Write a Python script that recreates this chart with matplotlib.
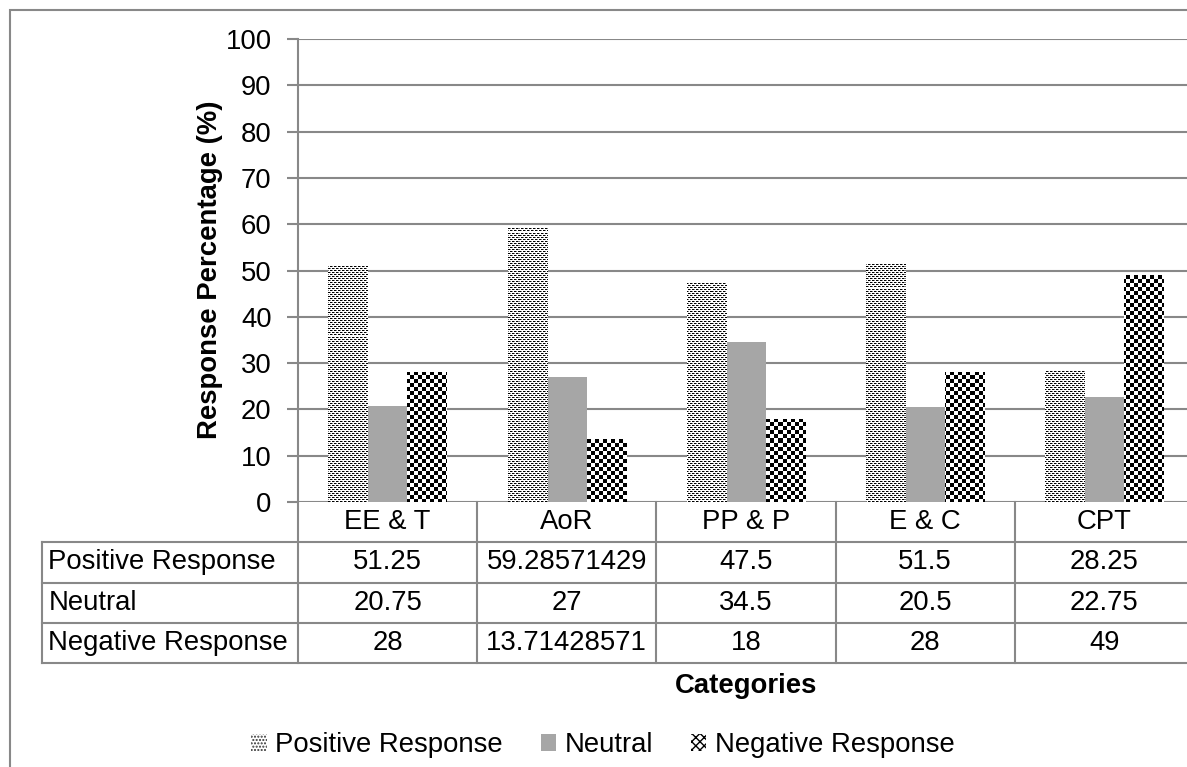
import numpy as np
import matplotlib
matplotlib.use("Agg")
import matplotlib.pyplot as plt
import matplotlib.patches as mpatches
from matplotlib.lines import Line2D
from matplotlib.transforms import blended_transform_factory

plt.rcParams['font.family'] = ['Liberation Sans', 'DejaVu Sans']

categories = ['EE & T', 'AoR', 'PP & P', 'E & C', 'CPT']
series_names = ['Positive Response', 'Neutral', 'Negative Response']
positive = [51.25, 59.28571429, 47.5, 51.5, 28.25]
neutral = [20.75, 27, 34.5, 20.5, 22.75]
negative = [28, 13.71428571, 18, 28, 49]
table_text = [['51.25', '59.28571429', '47.5', '51.5', '28.25'],
              ['20.75', '27', '34.5', '20.5', '22.75'],
              ['28', '13.71428571', '18', '28', '49']]
yticks = list(range(0, 101, 10))

W, H = 1187, 767
GRAY = '#888888'
FS = 19.8

fig = plt.figure(figsize=(W / 100, H / 100), dpi=100)
ax_left, ax_right, ax_top, ax_bottom = 298, 1194, 39, 502
ax = fig.add_axes([ax_left / W, 1 - ax_bottom / H, (ax_right - ax_left) / W, (ax_bottom - ax_top) / H])

x = np.arange(len(categories))
bw = 0.22

# textures (pixel-sized patterns) for patterned bars
pw, ph = ax_right - ax_left, ax_bottom - ax_top
yy, xx = np.mgrid[0:ph, 0:pw]
dots = np.ones((ph, pw))
dots[(xx % 4 <= 1) & (yy % 4 == 0)] = 0.0
dots[(xx % 4 >= 2) & (yy % 4 == 2)] = 0.0
dots[(xx % 4 == 0) & (yy % 4 == 2)] = 0.5
dots[(xx % 4 == 2) & (yy % 4 == 0)] = 0.5
checker = ((xx // 4 + yy // 4) % 2).astype(float)

bars_pos = ax.bar(x - bw, positive, bw, facecolor='none', edgecolor='none', zorder=3)
bars_neu = ax.bar(x, neutral, bw, color='#A6A6A6', zorder=3)
bars_neg = ax.bar(x + bw, negative, bw, facecolor='none', edgecolor='none', zorder=3)

ax.set_xlim(-0.5, len(categories) - 0.5)
ax.set_ylim(0, 100)

for bars, tex in [(bars_pos, dots), (bars_neg, checker)]:
    for b in bars:
        im = ax.imshow(tex, cmap='gray', vmin=0, vmax=1, extent=(-0.5, len(categories) - 0.5, 0, 100),
                       aspect='auto', interpolation='nearest', zorder=3, origin='upper')
        im.set_clip_path(b)

ax.set_yticks(yticks)
ax.set_yticklabels([str(t) for t in yticks], fontsize=FS)
ax.tick_params(axis='y', length=8, width=1.5, color=GRAY, pad=11)
ax.set_xticks([])
ax.grid(axis='y', color=GRAY, linewidth=1.5, zorder=0)
ax.set_axisbelow(True)
for s in ['top', 'right', 'bottom']:
    ax.spines[s].set_visible(False)
ax.spines['left'].set_color(GRAY)
ax.spines['left'].set_linewidth(1.5)

# data table under the axis
tr = blended_transform_factory(ax.transData, ax.transAxes)
rh = 40.3 / ph
left_x = -0.5 - (ax_left - 42) / (pw / len(categories))
nrows = len(table_text)
bottom_y = -rh * (nrows + 1)
lkw = dict(color=GRAY, linewidth=1.5, transform=tr, clip_on=False)
for i in range(1, nrows + 2):
    ax.add_line(Line2D([left_x, len(categories) - 0.5], [-rh * i, -rh * i], **lkw))
ax.add_line(Line2D([left_x, left_x], [-rh, bottom_y], **lkw))
for k in range(len(categories)):
    ax.add_line(Line2D([k - 0.5, k - 0.5], [0, bottom_y], **lkw))
for k, c in enumerate(categories):
    ax.text(k, -rh * 0.5, c, transform=tr, ha='center', va='center', fontsize=FS)
for r, name in enumerate(series_names):
    yc = -rh * (r + 1.5)
    ax.text(left_x + 0.035, yc, name, transform=tr, ha='left', va='center', fontsize=FS)
    for k, v in enumerate(table_text[r]):
        ax.text(k, yc, v, transform=tr, ha='center', va='center', fontsize=FS)

fig.text(210 / W, 1 - 270 / H, 'Response Percentage (%)', rotation=90, ha='center', va='center',
         fontsize=FS, fontweight='bold')
fig.text((ax_left + ax_right) / 2 / W, 1 - 686 / H, 'Categories', ha='center', va='center',
         fontsize=FS, fontweight='bold')

plt.rcParams['hatch.linewidth'] = 1.0
handles = [mpatches.Patch(facecolor='white', edgecolor='#333333', hatch='.....', linewidth=0),
           mpatches.Patch(facecolor='#A6A6A6', edgecolor='none'),
           mpatches.Patch(facecolor='white', edgecolor='black', hatch='xxxx', linewidth=0)]
fig.legend(handles, series_names, loc='center', bbox_to_anchor=(603 / W, 1 - 745 / H), ncol=3,
           frameon=False, fontsize=FS, handlelength=0.55, handleheight=0.55, handletextpad=0.3,
           columnspacing=1.4)

fig.add_artist(mpatches.Rectangle((10 / W, -0.1), 1.2, (H - 10) / H + 0.1, transform=fig.transFigure,
                                  facecolor='none', edgecolor=GRAY, linewidth=1.5, clip_on=False))

fig.savefig('out.png', dpi=100)
